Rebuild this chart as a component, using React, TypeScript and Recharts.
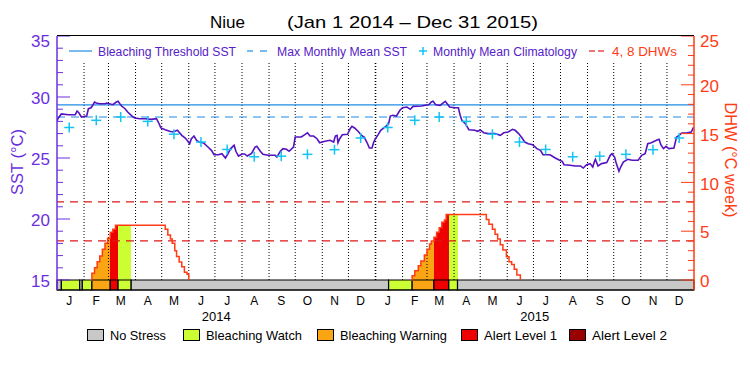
import React from 'react';
import { ComposedChart, Line, Scatter, XAxis, YAxis, ReferenceLine, ReferenceArea } from 'recharts';

const FONT = '"Liberation Sans", Arial, sans-serif';
const PURPLE_AXIS = '#6b2fe0';
const SST_LINE = '#5512c0';
const LEGEND_TEXT = '#5520c8';
const BLUE = '#1f8ce8';
const CYAN = '#12c4f4';
const DHW_COLOR = '#ff3c14';
const DASH_RED = '#e01818';

// ---- data (day index counted from Jan 1 2014) ----
const sstDays = [0, 1, 5, 13, 21, 23, 25, 28, 32, 34, 36, 39, 41, 43, 45, 49, 55, 57, 64, 68, 70, 72, 74, 78, 81, 86, 89, 95, 101, 108, 114, 117, 119, 124, 129, 133, 138, 143, 147, 150, 152, 154, 157, 160, 163, 168, 173, 177, 180, 185, 189, 193, 196, 199, 203, 205, 208, 212, 215, 218, 223, 227, 229, 233, 236, 242, 250, 252, 256, 259, 263, 266, 271, 273, 280, 284, 287, 290, 294, 298, 301, 307, 313, 317, 319, 321, 322, 324, 327, 333, 336, 338, 341, 345, 349, 352, 355, 358, 361, 363, 365, 368, 371, 376, 380, 382, 385, 389, 393, 396, 401, 405, 408, 418, 422, 426, 429, 431, 434, 439, 443, 445, 448, 450, 456, 460, 462, 464, 468, 472, 479, 482, 485, 489, 494, 502, 508, 512, 517, 522, 525, 529, 533, 536, 540, 545, 550, 554, 557, 565, 571, 576, 579, 581, 588, 594, 600, 603, 607, 611, 614, 616, 617, 620, 624, 630, 634, 636, 639, 641, 644, 646, 649, 654, 659, 666, 670, 674, 677, 681, 687, 690, 692, 695, 698, 701, 707, 710, 713, 716, 722, 727, 729, 730];
const sstValues = [28.0, 28.22, 28.61, 28.55, 28.55, 28.85, 28.71, 28.36, 28.42, 28.44, 29.04, 29.12, 29.32, 29.59, 29.51, 29.45, 29.45, 29.51, 29.37, 29.59, 29.65, 29.45, 29.26, 29.04, 28.77, 28.44, 28.28, 28.22, 28.22, 28.17, 28.22, 27.81, 27.46, 27.32, 27.19, 27.13, 27.27, 26.86, 26.64, 26.37, 26.17, 26.58, 26.8, 26.45, 26.31, 26.23, 25.9, 25.63, 25.27, 25.27, 25.35, 25.0, 25.35, 25.77, 26.04, 25.55, 25.16, 25.33, 25.33, 25.16, 25.38, 25.9, 25.96, 25.55, 25.3, 25.22, 25.22, 25.08, 25.55, 25.77, 25.71, 25.55, 25.9, 26.72, 26.72, 26.91, 27.07, 26.8, 26.8, 26.58, 26.25, 26.37, 26.45, 26.31, 26.8, 26.86, 26.25, 26.58, 26.91, 26.94, 27.4, 27.6, 27.46, 27.19, 26.86, 26.72, 26.31, 25.82, 25.82, 26.31, 26.58, 26.91, 27.27, 27.54, 27.81, 28.44, 28.5, 28.44, 28.91, 29.12, 29.18, 28.99, 29.23, 29.26, 29.32, 29.37, 29.59, 29.65, 29.37, 29.32, 29.54, 29.65, 29.37, 29.18, 29.12, 29.12, 28.5, 28.09, 27.81, 27.32, 27.27, 27.19, 27.3, 27.07, 27.0, 27.0, 26.86, 27.07, 27.13, 27.35, 27.27, 27.0, 26.64, 26.31, 26.17, 26.09, 25.77, 25.63, 25.27, 25.27, 25.0, 24.81, 24.73, 24.45, 24.4, 24.35, 24.35, 24.18, 24.45, 24.54, 24.26, 24.73, 24.89, 24.35, 24.54, 24.62, 25.22, 25.35, 25.08, 24.54, 23.91, 24.26, 24.67, 24.89, 24.81, 24.81, 25.22, 25.35, 26.17, 26.25, 26.45, 26.53, 26.09, 25.77, 25.96, 25.77, 25.82, 26.72, 26.86, 27.05, 27.07, 27.13, 27.46, 27.46];

const monthStarts = [0, 31, 59, 90, 120, 151, 181, 212, 243, 273, 304, 334, 365, 396, 424, 455, 485, 516, 546, 577, 608, 638, 669, 699];
const monthLetters = ['J', 'F', 'M', 'A', 'M', 'J', 'J', 'A', 'S', 'O', 'N', 'D'];
const yearLabels = ['2014', '2015'];
const yearMids = [182.5, 547.5];

const climMonthly = [27.5, 28.09, 28.36, 28.0, 26.95, 26.31, 25.7, 25.1, 25.15, 25.3, 25.68, 26.64];

const MMM = 28.36;
const THRESHOLD = 29.36;
const dhwLevels = [4, 8];

const dhw2014Days = [39, 40, 43, 46, 49, 52, 55, 58, 61, 64, 67, 124, 127, 130, 132, 135, 137, 140, 143, 146, 149, 151];
const dhw2014Values = [0, 0.68, 1.26, 1.88, 2.46, 3.14, 3.76, 4.27, 4.88, 5.19, 5.6, 5.2, 4.6, 4.2, 3.76, 3.0, 2.4, 1.84, 1.37, 0.79, 0.58, 0];
const dhw2015Days = [406, 407, 410, 414, 417, 421, 424, 427, 429, 432, 435, 438, 441, 444, 446, 492, 495, 499, 502, 505, 508, 511, 515, 518, 521, 524, 527, 531];
const dhw2015Values = [0, 0.44, 0.96, 1.47, 1.95, 2.56, 3.14, 3.69, 4.0, 4.37, 4.88, 5.36, 5.91, 6.15, 6.7, 6.2, 5.7, 5.2, 4.7, 4.2, 3.6, 3.07, 2.39, 1.88, 1.6, 1.1, 0.51, 0];

// coloured fill under the DHW curve
const fillStart = [40, 61, 70, 407, 432, 449];
const fillEnd = [61, 70, 85, 432, 449, 459];
const fillLevel = ['warning', 'alert1', 'watch', 'warning', 'alert1', 'watch'];

// stress level bar
const barStart = [0, 5, 26, 29, 40, 61, 70, 85, 380, 407, 432, 449, 459];
const barEnd = [5, 26, 29, 40, 61, 70, 85, 380, 407, 432, 449, 459, 730];
const barLevel = ['none', 'watch', 'none', 'watch', 'warning', 'alert1', 'watch', 'none', 'watch', 'warning', 'alert1', 'watch', 'none'];

const stressNames = ['No Stress', 'Bleaching Watch', 'Bleaching Warning', 'Alert Level 1', 'Alert Level 2'];
const stressKeys = ['none', 'watch', 'warning', 'alert1', 'alert2'];
const STRESS_COLORS: Record<string, string> = {
  none: '#c8c8c8',
  watch: '#ccff33',
  warning: '#faa614',
  alert1: '#ee0000',
  alert2: '#990000',
};

// ---- derived tables ----
const SST_MIN = 35 - (20 * 254) / 244;
const DHW_MIN = 25 - (25 * 254) / 244;

const sstRows = sstDays.map((d, i) => ({ day: d, sst: sstValues[i] }));
const climRows = [0, 1].flatMap((y) =>
  climMonthly.map((v, m) => ({ day: monthStarts[y * 12 + m] + 14, clim: v }))
);
const dhw2014Rows = dhw2014Days.map((d, i) => ({ day: d, dhw: dhw2014Values[i] }));
const dhw2015Rows = dhw2015Days.map((d, i) => ({ day: d, dhw: dhw2015Values[i] }));

const steps = (days: number[], vals: number[]) =>
  days.slice(0, -1).map((d, i) => ({ x1: d, x2: days[i + 1], v: vals[i] }));
const allSteps = [...steps(dhw2014Days, dhw2014Values), ...steps(dhw2015Days, dhw2015Values)];
const fillRects: { x1: number; x2: number; v: number; color: string }[] = [];
fillStart.forEach((a, k) => {
  const b = fillEnd[k];
  allSteps.forEach((s) => {
    const x1 = Math.max(a, s.x1);
    const x2 = Math.min(b, s.x2);
    if (x2 > x1 && s.v > 0) fillRects.push({ x1, x2, v: s.v, color: STRESS_COLORS[fillLevel[k]] });
  });
});

const monthTickVals = monthStarts.map((d) => d + 14);
const xTicks = [...monthTickVals, ...yearMids];
const sstTicks = Array.from({ length: 21 }, (_, i) => 15 + i);
const dhwTicks = Array.from({ length: 26 }, (_, i) => i);

const XTick = (props: any) => {
  const { x, y, payload } = props;
  const v = payload.value;
  const yi = yearMids.indexOf(v);
  if (yi >= 0) {
    return (
      <text x={x} y={y + 30.5} textAnchor="middle" fontSize={13} fontFamily={FONT} fill="#000">
        {yearLabels[yi]}
      </text>
    );
  }
  const mi = monthTickVals.indexOf(v);
  return (
    <text x={x} y={y + 14.5} textAnchor="middle" fontSize={12} fontFamily={FONT} fill="#000">
      {monthLetters[mi % 12]}
    </text>
  );
};

const SstTick = (props: any) => {
  const { x, y, payload } = props;
  const v = payload.value;
  const major = v % 5 === 0;
  return (
    <g>
      <line x1={x} x2={x + (major ? 13 : 6)} y1={y} y2={y} stroke={PURPLE_AXIS} strokeWidth={1} />
      {major && (
        <text x={x - 7} y={y + (v === 35 ? 5 : 1)} dy="0.36em" textAnchor="end" fontSize={17} fontFamily={FONT} fill={PURPLE_AXIS}>
          {v}
        </text>
      )}
    </g>
  );
};

const DhwTick = (props: any) => {
  const { x, y, payload } = props;
  const v = payload.value;
  const major = v % 5 === 0;
  return (
    <g>
      <line x1={x - (major ? 13 : 6)} x2={x} y1={y} y2={y} stroke={DHW_COLOR} strokeWidth={1} />
      {major && (
        <text x={x + 6} y={y + (v === 25 ? 5 : 1)} dy="0.36em" textAnchor="start" fontSize={17} fontFamily={FONT} fill={DHW_COLOR}>
          {v}
        </text>
      )}
    </g>
  );
};

const Cross = (props: any) => {
  const { cx, cy } = props;
  if (cx == null || cy == null) return <g />;
  return (
    <g>
      <line x1={cx - 5} x2={cx + 5} y1={cy} y2={cy} stroke={CYAN} strokeWidth={1.5} />
      <line x1={cx} x2={cx} y1={cy - 5} y2={cy + 5} stroke={CYAN} strokeWidth={1.5} />
    </g>
  );
};

const bottomLegendBoxX = [87, 183, 317, 461, 569];
const bottomLegendTextW = [56, 96, 107, 73, 75];

export default function App() {
  return (
    <div style={{ position: 'absolute', left: 0, top: 0, width: 750, height: 375, background: '#fff' }}>
      <ComposedChart
        width={750}
        height={375}
        data={sstRows}
        margin={{ top: 36, right: 0, bottom: 0, left: 0 }}
      >
        <XAxis
          dataKey="day"
          type="number"
          domain={[0, 730]}
          allowDataOverflow
          ticks={xTicks}
          interval={0}
          tick={(p: any) => <XTick {...p} />}
          tickLine={false}
          tickSize={0}
          tickMargin={0}
          height={85}
          axisLine={{ stroke: '#000', strokeWidth: 1 }}
        />
        <YAxis
          yAxisId="sst"
          orientation="left"
          width={57}
          domain={[SST_MIN, 35]}
          allowDataOverflow
          ticks={sstTicks}
          interval={0}
          tick={(p: any) => <SstTick {...p} />}
          tickLine={false}
          tickSize={0}
          tickMargin={0}
          axisLine={{ stroke: PURPLE_AXIS, strokeWidth: 1.5 }}
        />
        <YAxis
          yAxisId="dhw"
          orientation="right"
          width={56}
          domain={[DHW_MIN, 25]}
          allowDataOverflow
          ticks={dhwTicks}
          interval={0}
          tick={(p: any) => <DhwTick {...p} />}
          tickLine={false}
          tickSize={0}
          tickMargin={0}
          axisLine={{ stroke: DHW_COLOR, strokeWidth: 1.5 }}
        />

        {monthStarts.slice(1).map((d) => (
          <ReferenceLine
            key={'m' + d}
            yAxisId="sst"
            segment={[{ x: d, y: 15 }, { x: d, y: 32.8 }]}
            stroke="#000"
            strokeWidth={d === 365 ? 1.6 : 1}
            strokeDasharray="1 2"
          />
        ))}

        {fillRects.map((r, i) => (
          <ReferenceArea
            key={'f' + i}
            yAxisId="dhw"
            x1={r.x1}
            x2={r.x2}
            y1={0}
            y2={r.v}
            fill={r.color}
            fillOpacity={1}
            stroke="none"
            shapeRendering="crispEdges"
          />
        ))}

        {barStart.map((a, i) => (
          <ReferenceArea
            key={'b' + i}
            yAxisId="dhw"
            x1={a}
            x2={barEnd[i]}
            y1={DHW_MIN}
            y2={0}
            fill={STRESS_COLORS[barLevel[i]]}
            fillOpacity={1}
            stroke="#000"
            strokeWidth={1.2}
          />
        ))}

        {dhwLevels.map((v) => (
          <ReferenceLine key={'d' + v} yAxisId="dhw" y={v} stroke={DASH_RED} strokeWidth={1.2} strokeDasharray="8 6" />
        ))}
        <ReferenceLine yAxisId="sst" y={THRESHOLD} stroke={BLUE} strokeWidth={1.2} />
        <ReferenceLine yAxisId="sst" y={MMM} stroke={BLUE} strokeWidth={1.2} strokeDasharray="8 6" />

        <Line
          yAxisId="dhw"
          data={dhw2014Rows}
          dataKey="dhw"
          type="stepAfter"
          stroke={DHW_COLOR}
          strokeWidth={1.5}
          dot={false}
          isAnimationActive={false}
        />
        <Line
          yAxisId="dhw"
          data={dhw2015Rows}
          dataKey="dhw"
          type="stepAfter"
          stroke={DHW_COLOR}
          strokeWidth={1.5}
          dot={false}
          isAnimationActive={false}
        />
        <Line
          yAxisId="sst"
          dataKey="sst"
          type="linear"
          stroke={SST_LINE}
          strokeWidth={1.6}
          dot={false}
          isAnimationActive={false}
        />
        <Scatter
          yAxisId="sst"
          data={climRows}
          dataKey="clim"
          shape={(p: any) => <Cross {...p} />}
          isAnimationActive={false}
        />
      </ComposedChart>

      <svg width={750} height={375} style={{ position: 'absolute', left: 0, top: 0, pointerEvents: 'none' }}>
        <line x1={57} x2={694} y1={35.5} y2={35.5} stroke="#000" strokeWidth={1} />
        {/* title */}
        <text x={210} y={28} fontSize={17} fontFamily={FONT} fill="#000" textLength={35} lengthAdjust="spacingAndGlyphs">Niue</text>
        <text x={287} y={28} fontSize={17} fontFamily={FONT} fill="#000" textLength={251} lengthAdjust="spacingAndGlyphs">(Jan 1 2014 – Dec 31 2015)</text>

        {/* top legend */}
        <line x1={69} x2={92} y1={51} y2={51} stroke={BLUE} strokeWidth={1.2} />
        <text x={98} y={55.5} fontSize={12.5} fontFamily={FONT} fill={LEGEND_TEXT} textLength={138} lengthAdjust="spacingAndGlyphs">Bleaching Threshold SST</text>
        <line x1={247} x2={253} y1={51} y2={51} stroke={BLUE} strokeWidth={1.2} />
        <line x1={260} x2={267} y1={51} y2={51} stroke={BLUE} strokeWidth={1.2} />
        <text x={277} y={55.5} fontSize={12.5} fontFamily={FONT} fill={LEGEND_TEXT} textLength={130} lengthAdjust="spacingAndGlyphs">Max Monthly Mean SST</text>
        <line x1={419} x2={427} y1={51} y2={51} stroke={CYAN} strokeWidth={1.5} />
        <line x1={423} x2={423} y1={47} y2={55} stroke={CYAN} strokeWidth={1.5} />
        <text x={433} y={55.5} fontSize={12.5} fontFamily={FONT} fill={LEGEND_TEXT} textLength={144} lengthAdjust="spacingAndGlyphs">Monthly Mean Climatology</text>
        <line x1={589} x2={595} y1={51} y2={51} stroke={DASH_RED} strokeWidth={1.2} />
        <line x1={598} x2={604} y1={51} y2={51} stroke={DASH_RED} strokeWidth={1.2} />
        <text x={612} y={55.5} fontSize={12.5} fontFamily={FONT} fill={DHW_COLOR} textLength={65} lengthAdjust="spacingAndGlyphs">4, 8 DHWs</text>

        {/* axis titles */}
        <text transform="translate(23,162) rotate(-90)" textAnchor="middle" fontSize={16} fontFamily={FONT} fill={PURPLE_AXIS} textLength={66} lengthAdjust="spacingAndGlyphs">SST (°C)</text>
        <text transform="translate(725,160) rotate(90)" textAnchor="middle" fontSize={16} fontFamily={FONT} fill={DHW_COLOR} textLength={115} lengthAdjust="spacingAndGlyphs">DHW (°C week)</text>

        {/* bottom legend */}
        {stressNames.map((name, i) => (
          <g key={name}>
            <rect x={bottomLegendBoxX[i] + 0.5} y={329.5} width={16} height={11} fill={STRESS_COLORS[stressKeys[i]]} stroke="#000" strokeWidth={1} />
            <text x={bottomLegendBoxX[i] + 23} y={339.5} fontSize={13} fontFamily={FONT} fill="#000" textLength={bottomLegendTextW[i]} lengthAdjust="spacingAndGlyphs">{name}</text>
          </g>
        ))}
      </svg>
    </div>
  );
}
